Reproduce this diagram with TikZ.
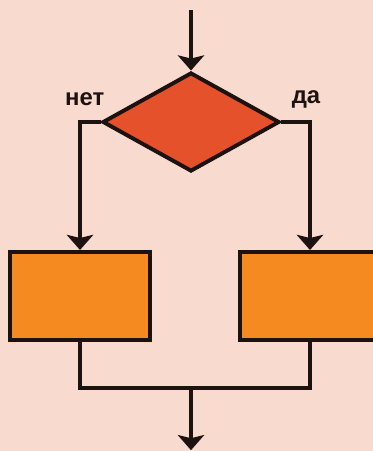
\documentclass[tikz,border=0pt]{standalone}
\usepackage{fontspec}
\setmainfont{Liberation Sans}
\usetikzlibrary{shapes.geometric,arrows.meta}
\definecolor{bgpink}{HTML}{F9DACE}
\definecolor{condred}{HTML}{E4512A}
\definecolor{boxorange}{HTML}{F58B20}
\definecolor{linedark}{HTML}{1C1210}
\begin{document}
\begin{tikzpicture}[line width=2.8pt, draw=linedark,
		flow/.style={draw=linedark, -{Stealth[length=0.38cm, width=0.66cm, inset=0.08cm]}},
		cond/.style={diamond, draw=linedark, fill=condred, minimum width=4.425cm, minimum height=2.475cm, inner sep=0pt},
		block/.style={rectangle, draw=linedark, fill=boxorange, minimum width=3.5cm, minimum height=2.2cm, inner sep=0pt},
		lbl/.style={font=\bfseries\fontsize{17}{17}\selectfont, text=linedark}]
		\fill[bgpink] (0,0) rectangle (9.325,11.275);
		\useasboundingbox (0,0) rectangle (9.325,11.275);

		\coordinate (in) at (4.775,11.025);
		\node[cond] (c) at (4.775,8.225) {};
		\node[block] (no) at (2.0,3.875) {};
		\node[block] (yes) at (7.75,3.875) {};
		\coordinate (join) at (4.775,1.575);
		\coordinate (out) at (4.775,0.02);

		\node[lbl] (nolbl) at (2.12,8.8) {нет};
		\node[lbl] (yeslbl) at (7.65,8.8) {да};

		\draw[flow] (in) -- (c.north);
		\draw[flow] (c.west) -| (no.north);
		\draw[flow] (c.east) -| (yes.north);
		\draw (no.south) |- (join) -| (yes.south);
		\draw[flow] (join) -- (out);
	\end{tikzpicture}
\end{document}
